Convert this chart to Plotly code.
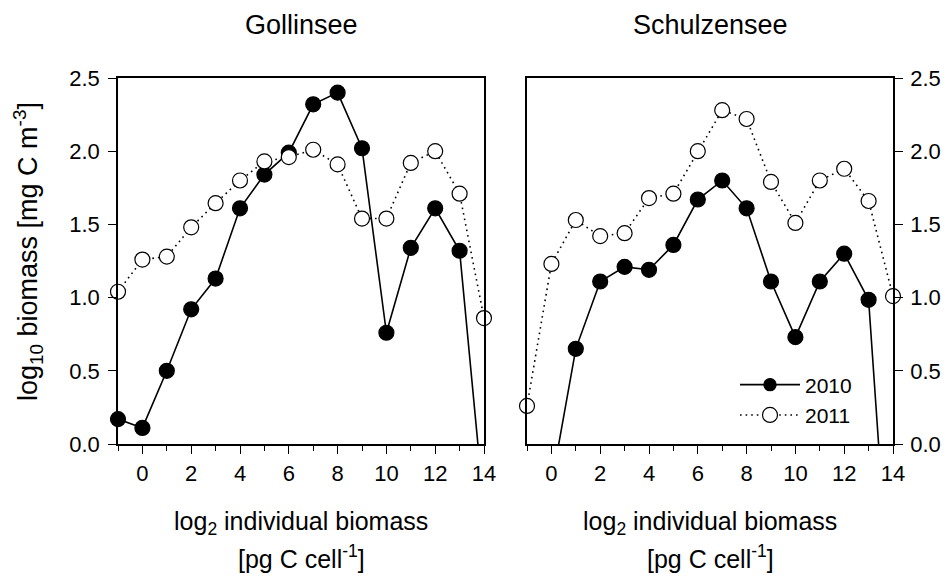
import plotly.graph_objects as go

# log2 individual biomass classes [pg C cell^-1]
size_class = list(range(-1, 15))

# log10 biomass [mg C m^-3] per size class
goll_2010 = [0.17, 0.11, 0.50, 0.92, 1.13, 1.61, 1.84, 1.99, 2.32, 2.40,
             2.02, 0.76, 1.34, 1.61, 1.32, -0.44]
goll_2011 = [1.04, 1.26, 1.28, 1.48, 1.645, 1.80, 1.93, 1.96, 2.01, 1.91,
             1.54, 1.54, 1.92, 2.00, 1.71, 0.86]
schu_2010 = [None, -0.28, 0.65, 1.11, 1.21, 1.19, 1.36, 1.67, 1.80, 1.61,
             1.11, 0.73, 1.11, 1.30, 0.985, -1.42]
schu_2011 = [0.26, 1.23, 1.53, 1.42, 1.44, 1.68, 1.71, 2.00, 2.28, 2.22,
             1.79, 1.51, 1.80, 1.88, 1.66, 1.01]

lakes = ["Gollinsee", "Schulzensee"]
x_ticks = list(range(0, 15, 2))
y_ticks = [0.0, 0.5, 1.0, 1.5, 2.0, 2.5]
y_range = [0, 2.5]
x_range = [-1, 14]

FONT = "Liberation Sans, Arial, sans-serif"
W, H = 947, 576

fig = go.Figure()


def marker_sizes(values, size=15):
    # classes whose value falls outside the value axis get no marker
    return [size if (v is not None and y_range[0] <= v <= y_range[1]) else 0
            for v in values]


series = [
    (goll_2010, "x", "y", "2010", False),
    (schu_2010, "x2", "y2", "2010", True),
    (goll_2011, "x", "y", "2011", False),
    (schu_2011, "x2", "y2", "2011", True),
]

for vals, xa, ya, yr, in_legend in series:
    filled = yr == "2010"
    fig.add_trace(go.Scatter(
        x=size_class, y=vals, xaxis=xa, yaxis=ya,
        mode="lines+markers", name=yr, legendgroup=yr,
        showlegend=in_legend,
        cliponaxis=False, connectgaps=False,
        line=dict(color="black", width=1.6,
                  dash="solid" if filled else "1.6px,4px"),
        marker=dict(size=marker_sizes(vals), symbol="circle", opacity=1,
                    color="black" if filled else "white",
                    line=dict(color="black", width=1.2)),
    ))

axis_common = dict(
    showline=True, linecolor="black", linewidth=1.5, mirror=True,
    showgrid=False, zeroline=False, ticks="outside", ticklen=8,
    tickwidth=1.3, tickcolor="black",
    tickfont=dict(family=FONT, size=22, color="black"),
)

xdom1 = [118 / W, 484 / W]
xdom2 = [527 / W, 893 / W]
ydom = [1 - 444 / H, 1 - 78 / H]

xaxis_cfg = dict(axis_common, range=x_range, tickvals=x_ticks,
                 ticklabelstandoff=1,
                 minor=dict(dtick=1, tick0=-1, ticks="outside", ticklen=5,
                            tickwidth=1.3, tickcolor="black", showgrid=False))
yaxis_cfg = dict(axis_common, range=y_range, tickvals=y_ticks,
                 tickformat=".1f")

fig.update_layout(
    width=W, height=H,
    margin=dict(l=0, r=0, t=0, b=0, pad=0, autoexpand=False),
    paper_bgcolor="white", plot_bgcolor="white",
    font=dict(family=FONT, color="black"),
    xaxis=dict(xaxis_cfg, domain=xdom1, anchor="y"),
    yaxis=dict(yaxis_cfg, domain=ydom, anchor="x", ticklabelstandoff=4),
    xaxis2=dict(xaxis_cfg, domain=xdom2, anchor="y2"),
    yaxis2=dict(yaxis_cfg, domain=ydom, anchor="x2", side="right",
                ticklabelstandoff=3),
    showlegend=True,
    legend=dict(x=735 / W, y=1 - 400 / H, xanchor="left", yanchor="middle",
                bgcolor="rgba(0,0,0,0)", borderwidth=0,
                font=dict(family=FONT, size=21, color="black"),
                tracegroupgap=0, itemwidth=60),
)

annotations = []
for name, dom in zip(lakes, [xdom1, xdom2]):
    cx = (dom[0] + dom[1]) / 2
    annotations.append(dict(text=name, x=cx, y=1 - 25 / H, xref="paper",
                            yref="paper", showarrow=False,
                            xanchor="center", yanchor="middle",
                            font=dict(family=FONT, size=27, color="black")))
    annotations.append(dict(text="log<sub>2</sub> individual biomass",
                            x=cx, y=1 - 523 / H, xref="paper", yref="paper",
                            showarrow=False, xanchor="center",
                            yanchor="middle",
                            font=dict(family=FONT, size=25, color="black")))
    annotations.append(dict(text="[pg C cell<sup>-1</sup>]",
                            x=cx, y=1 - 557 / H, xref="paper", yref="paper",
                            showarrow=False, xanchor="center",
                            yanchor="middle",
                            font=dict(family=FONT, size=25, color="black")))

annotations.append(dict(text="log<sub>10</sub> biomass [mg C m<sup>-3</sup>]",
                        x=28 / W, y=1 - 252 / H, xref="paper", yref="paper",
                        showarrow=False, textangle=-90,
                        xanchor="center", yanchor="middle",
                        font=dict(family=FONT, size=27, color="black")))
fig.update_layout(annotations=annotations)

fig.write_html("out.html")
